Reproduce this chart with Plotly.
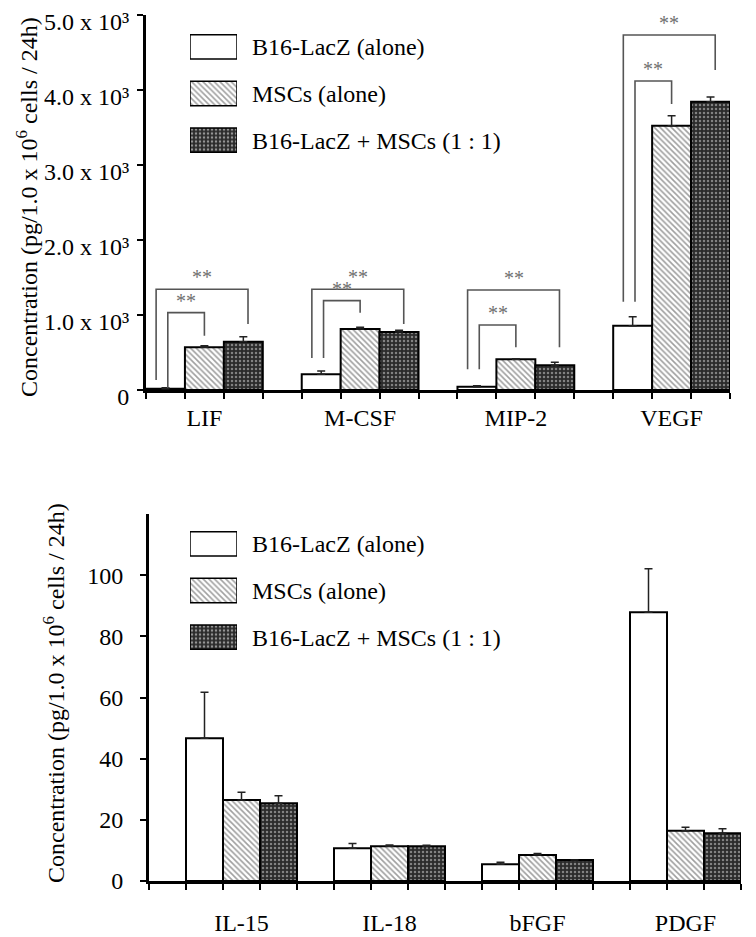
import plotly.graph_objects as go

# ---------------- data ----------------
series_names = ["B16-LacZ (alone)", "MSCs (alone)", "B16-LacZ + MSCs (1 : 1)"]

top_categories = ["LIF", "M-CSF", "MIP-2", "VEGF"]
top_b16 = [15, 209, 44, 857]
top_b16_err = [16, 44, 13, 120]
top_msc = [569, 813, 409, 3524]
top_msc_err = [20, 23, 9, 133]
top_mix = [644, 773, 329, 3844]
top_mix_err = [67, 23, 40, 63]
top_yticks = [0, 1000, 2000, 3000, 4000, 5000]

bottom_categories = ["IL-15", "IL-18", "bFGF", "PDGF"]
bottom_b16 = [46.7, 10.7, 5.5, 87.9]
bottom_b16_err = [15.0, 1.6, 0.6, 14.2]
bottom_msc = [26.5, 11.4, 8.5, 16.4]
bottom_msc_err = [2.5, 0.4, 0.5, 1.2]
bottom_mix = [25.4, 11.4, 6.9, 15.6]
bottom_mix_err = [2.5, 0.3, 0.0, 1.5]
bottom_yticks = [0, 20, 40, 60, 80, 100]

# significance brackets (top panel, "**"), levels in data units
sig_outer_top = [1343, 1343, 1333, 4733]
sig_inner_top = [1031, 1191, 867, 4120]
sig_outer_left_foot = [133, 427, 276, 1177]
sig_inner_left_foot = [27, 427, 276, 1177]
sig_outer_right_foot = [880, 880, 569, 4267]
sig_inner_right_foot = [724, 1031, 569, 3813]
sig_label = "**"

y_title = "Concentration (pg/1.0 x 10<sup>6</sup> cells / 24h)"

# ---------------- styles ----------------
FONT = "Liberation Serif"
PAGE_W, PAGE_H = 756, 937
OFF = 8                      # default page body margin
W, H = PAGE_W - OFF, PAGE_H - OFF
fills = ["white", "white", "#2b2b2b"]
pat_shape = ["", "\\", "."]
pat_fg = ["#000000", "#404040", "#d8d8d8"]
pat_bg = ["white", "white", "#2b2b2b"]
pat_size = [5, 4, 4]
pat_sol = [0.3, 0.4, 0.3]

def px_x(p):
    return (p - OFF) / W

def px_y(p):
    return (PAGE_H - p) / H

fig = go.Figure()

panels = [
    ("x", "y", top_categories, [top_b16, top_msc, top_mix], [top_b16_err, top_msc_err, top_mix_err]),
    ("x2", "y2", bottom_categories, [bottom_b16, bottom_msc, bottom_mix], [bottom_b16_err, bottom_msc_err, bottom_mix_err]),
]
for xa, ya, cats, vals, errs in panels:
    xs = list(range(len(cats)))
    for i, name in enumerate(series_names):
        fig.add_trace(go.Bar(
            x=xs, y=vals[i], name=name, xaxis=xa, yaxis=ya, showlegend=False,
            marker=dict(color=fills[i], line=dict(color="black", width=2),
                        pattern=dict(shape=pat_shape[i], fgcolor=pat_fg[i], bgcolor=pat_bg[i],
                                     size=pat_size[i], solidity=pat_sol[i])),
            error_y=dict(type="data", array=errs[i], arrayminus=[0] * len(errs[i]), symmetric=False,
                         color="#222222", thickness=1.5, width=4),
        ))

# custom legends (one per panel) drawn as bars on small auxiliary axes
for xa, ya in [("x3", "y3"), ("x4", "y4")]:
    fig.add_trace(go.Bar(
        y=series_names, x=[1] * len(series_names), orientation="h", xaxis=xa, yaxis=ya,
        width=0.52, showlegend=False, hoverinfo="skip", cliponaxis=False,
        marker=dict(color=fills, line=dict(color="black", width=1.5),
                    pattern=dict(shape=pat_shape, fgcolor=pat_fg, bgcolor=pat_bg,
                                 size=pat_size, solidity=pat_sol)),
    ))

BAR_W = 0.25
def bar_center(g, s):
    return g + (s - 1) * BAR_W

shapes = []
annotations = []
for g in range(len(top_categories)):
    ox0 = bar_center(g, 0) - 0.06
    ox1 = bar_center(g, 2) + 0.03
    ix0 = bar_center(g, 0) + 0.015
    ix1 = bar_center(g, 1)
    for x0, x1, yt, yl, yr in [
        (ox0, ox1, sig_outer_top[g], sig_outer_left_foot[g], sig_outer_right_foot[g]),
        (ix0, ix1, sig_inner_top[g], sig_inner_left_foot[g], sig_inner_right_foot[g]),
    ]:
        shapes.append(dict(type="path", xref="x", yref="y",
                           path=f"M {x0},{yl} L {x0},{yt} L {x1},{yt} L {x1},{yr}",
                           line=dict(color="#555555", width=1.6)))
        annotations.append(dict(x=(x0 + x1) / 2, y=yt, xref="x", yref="y", text=sig_label,
                                showarrow=False, yanchor="bottom", yshift=-1,
                                font=dict(family=FONT, size=20, color="#707070")))

# y-axis titles
for cx, cy in [(27, 207), (54, 693)]:
    annotations.append(dict(x=px_x(cx), y=px_y(cy), xref="paper", yref="paper", text=y_title,
                            textangle=-90, showarrow=False, xanchor="center", yanchor="middle",
                            font=dict(family=FONT, size=24, color="black")))

axis_common = dict(showgrid=False, zeroline=False, showline=True, linecolor="black", linewidth=3,
                   tickfont=dict(family=FONT, size=24, color="black"), automargin=False)

top_ticktext = ["0" if v == 0 else f"{v/1000:.1f} x 10\u00b3" for v in top_yticks]
bottom_ticktext = [str(v) for v in bottom_yticks]

fig.update_layout(
    width=W, height=H, margin=dict(l=0, r=0, t=0, b=0),
    paper_bgcolor="white", plot_bgcolor="rgba(0,0,0,0)",
    barmode="group", bargap=0.25, bargroupgap=0,
    font=dict(family=FONT, color="black"),
    shapes=shapes, annotations=annotations,
    xaxis=dict(axis_common, domain=[px_x(146), px_x(730)], range=[-0.375, 3.375], anchor="y",
               tickmode="array", tickvals=list(range(len(top_categories))), ticktext=top_categories,
               ticks="", ticklabelstandoff=4,
               minor=dict(ticks="outside", tick0=-0.375, dtick=BAR_W, ticklen=6, tickwidth=2,
                          tickcolor="black", showgrid=False)),
    yaxis=dict(axis_common, domain=[px_y(390), px_y(15)], range=[0, 5000], anchor="x",
               tickmode="array", tickvals=top_yticks, ticktext=top_ticktext,
               ticks="outside", ticklen=6, tickwidth=2, tickcolor="black", ticklabelstandoff=3,
               ticklabelshift=7, ticklabeloverflow="allow"),
    xaxis2=dict(axis_common, domain=[px_x(149), px_x(741)], range=[-0.625, 3.375], anchor="y2",
                tickmode="array", tickvals=list(range(len(bottom_categories))), ticktext=bottom_categories,
                ticks="", ticklabelstandoff=18,
                minor=dict(ticks="outside", tick0=-0.375, dtick=BAR_W, ticklen=6, tickwidth=2,
                           tickcolor="black", showgrid=False)),
    yaxis2=dict(axis_common, domain=[px_y(881), px_y(514)], range=[0, 120], anchor="x2",
                tickmode="array", tickvals=bottom_yticks, ticktext=bottom_ticktext,
                ticks="outside", ticklen=6, tickwidth=2, tickcolor="black", ticklabelstandoff=12),
    xaxis3=dict(domain=[px_x(190), px_x(237)], range=[0, 1], anchor="y3", visible=False),
    yaxis3=dict(domain=[px_y(163.5), px_y(23.5)], type="category", range=[2.5, -0.5], anchor="x3",
                side="right", showline=False, showgrid=False, zeroline=False, ticks="",
                ticklabelstandoff=14, automargin=False,
                tickfont=dict(family=FONT, size=24, color="black")),
    xaxis4=dict(domain=[px_x(190), px_x(237)], range=[0, 1], anchor="y4", visible=False),
    yaxis4=dict(domain=[px_y(660.5), px_y(520.5)], type="category", range=[2.5, -0.5], anchor="x4",
                side="right", showline=False, showgrid=False, zeroline=False, ticks="",
                ticklabelstandoff=14, automargin=False,
                tickfont=dict(family=FONT, size=24, color="black")),
)

fig.write_html("out.html")
